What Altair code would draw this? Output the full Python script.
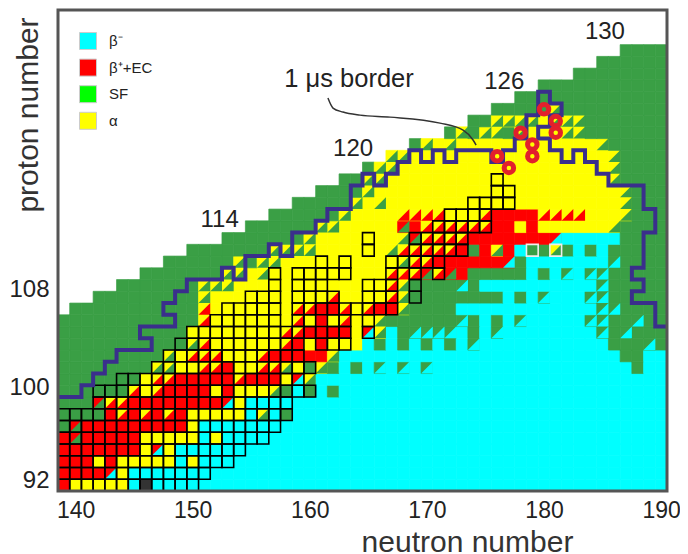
import altair as alt
import pandas as pd

alt.data_transformers.disable_max_rows()

# decay mode per nuclide: one row per proton number (92 upward), groups are
# N=139 | 140-149 | 150-159 | 160-169 | 170-179 | 180-189 | 190
CHART_ROWS = [
 "r yyyyycKccc cccccccccc cccccccccc cccccccccc cccccccccc c",
 "r rrriyccccc cccccccccc cccccccccc cccccccccc cccccccccc c",
 "r rryryyyyyc yccccccccc cccccccccc cccccccccc cccccccccc c",
 "r rrrrrryiyc cccccccccc cccccccccc cccccccccc cccccccccc c",
 "r drrrrryyyy ycyccccccc cccccccccc cccccccccc cccccccccc c",
 "g drrrrrrrrr yccccccccc cccccccccc cccccccccc cccccccccc c",
 "g gggrararar yyyyycbcgc cccccccccc cccccccccc cccccccccc c",
 "g ggdaarrrrr rrriyccccc cccccccccc cccccccccc cccccccccc c",
 "g gggggayarr rryryyybgc gcgccccccc cccccccccc cccccccccc c",
 "g ggggggyaar rrrrarrryi bccccccccc cccccccccc cccccccccc c",
 "g gggggggbby yaaryyaaby gbgcgchchc hccccccccc ccccccccgc c",
 "g ggggggggby aaayyyarrr rrbccccccc cccccccccc cccccccggc c",
 "g gggggggggg bayyyyyyar yryyycgcgc gcgchccccc ccccccgggh g",
 "g gggggggggg yyyyyyyyaa rrrryibcgh hhhcgchccc ccccchghgg g",
 "g gggggggggg gayyyyyyya yryayybggg ggghgcgchc cccchhgghg g",
 ". gggggggggg gayyyyyyya arrayarrbg gggccccccc ccccchhggg g",
 ". ..gggggggg gbyyyyyyyy yyayyyyabg gggggggcgc hccchhgggg g",
 ". ....gggggg gbbbyyyyyy yyyyyyyabg ggghgccccc ccccchgggg g",
 ". ......gggg gggbbybyyy yyyyyyyaaa dadrgggggc gchchhgggg g",
 ". ........gg ggggbgbbyy yyyyyyyyba arrrrrrigc cccccchggg g",
 ". .......... gggggggbbb byyyyyybaa aaargrbrcg gbgcgcgggg g",
 ". .......... ...ggggggg byyyyyyybd aaaarrrrrr ricccccggg g",
 ". .......... .....ggggg gbbyyyyydr aaaaaarryr yyyyyybggg g",
 ". .......... .......ggg gggbyyyyaa aayyyarrrr aaaayyybgg g",
 ". .......... .........g ggggbybyyy yyyyyyyyyy yyyyyyybgg g",
 ". .......... .......... .ggggbyyyy yyyyyyyyyy yyyyyyybgg g",
 ". .......... .......... ...ggbbyyy yyyyyyyyyy yyyyyybggg g",
 ". .......... .......... .....gbbyy yyyyyyyyyy yyyyyybggg g",
 ". .......... .......... .......bby yyyyyyyyyy yyyyyybggg g",
 ". .......... .......... .........g bybyyyyyyy yyyyybgggg g",
 ". .......... .......... .......... ..gbgbbgby yybbgggggg g",
 ". .......... .......... .......... ....ggbbbb ybbbgggggg g",
 ". .......... .......... .......... ......gggg gbgggggggg g",
 ". .......... .......... .......... ........gg gggggggggg g",
 ". .......... .......... .......... .......... gggggggggg g",
 ". .......... .......... .......... .......... ...ggggggg g",
 ". .......... .......... .......... .......... .....ggggg g",
 ". .......... .......... .......... .......... .......ggg g",
]
FIRST_Z = 92
FIRST_N = 139

COLORS = {"c": "#00ffff", "r": "#ff0000", "g": "#3a9f45", "y": "#ffff00", "K": "#333333"}
# split cells: upper-left colour, lower-right colour
SPLITS = {"a": "yr", "b": "yg", "d": "rg", "h": "gc", "i": "rc"}

# known-mass boxes: proton number, first neutron, last neutron
BOXES = [
 (92,139,150),(93,139,151),(94,139,153),(95,139,154),(96,139,156),(97,139,157),(98,139,158),
 (99,142,158),(100,142,160),(101,144,159),(102,147,160),(103,148,159),
 (104,149,159),(104,161,163),(105,150,163),(105,165,165),
 (106,152,157),(106,159,160),(106,162,163),(106,165,165),
 (107,153,157),(107,159,167),
 (108,155,157),(108,159,162),(108,165,167),(108,169,169),
 (109,157,157),(109,159,161),(109,165,167),(109,169,169),
 (110,157,157),(110,159,163),(110,167,167),(110,169,169),(110,171,171),
 (111,161,161),(111,163,163),(111,167,171),
 (112,165,165),(112,169,173),(113,165,165),(113,169,173),
 (114,171,175),(115,172,175),(116,174,177),(117,176,177),(118,176,176),
]
WHITE_BOXES = [(112,179),(112,181)]

# recently observed nuclides (neutron, proton)
CIRCLE_N = [180,181,181,178,179,179,177,176]
CIRCLE_Z = [124,123,122,122,121,120,119,120]

# 1 microsecond border, cell edges
BORDER = [(138.5,99.5),(140.5,99.5),(140.5,100.5),(141.5,100.5),(141.5,101.5),(142.5,101.5),(142.5,102.5),
 (143.5,102.5),(143.5,103.5),(146.5,103.5),(146.5,104.5),(145.5,104.5),(145.5,105.5),(148.5,105.5),
 (148.5,106.5),(147.5,106.5),(147.5,107.5),(148.5,107.5),(148.5,108.5),(149.5,108.5),(149.5,109.5),
 (152.5,109.5),(152.5,110.5),(153.5,110.5),(153.5,109.5),(154.5,109.5),(154.5,111.5),(156.5,111.5),
 (156.5,112.5),(157.5,112.5),(157.5,111.5),(158.5,111.5),(158.5,113.5),(160.5,113.5),(160.5,114.5),
 (161.5,114.5),(161.5,115.5),(163.5,115.5),(163.5,117.5),(164.5,117.5),(164.5,118.5),(165.5,118.5),
 (165.5,117.5),(166.5,117.5),(166.5,118.5),(167.5,118.5),(167.5,119.5),(168.5,119.5),(168.5,120.5),
 (169.5,120.5),(169.5,119.5),(170.5,119.5),(170.5,120.5),(171.5,120.5),(171.5,119.5),(172.5,119.5),
 (172.5,120.5),(175.5,120.5),(175.5,119.5),(176.5,119.5),(176.5,120.5),(177.5,120.5),(177.5,121.5),
 (178.5,121.5),(178.5,123.5),(179.5,123.5),(179.5,125.5),(180.5,125.5),(180.5,124.5),(181.5,124.5),
 (181.5,123.5),(180.5,123.5),(180.5,122.5),(179.5,122.5),(179.5,121.5),(180.5,121.5),(180.5,120.5),
 (181.5,120.5),(181.5,119.5),(182.5,119.5),(182.5,120.5),(183.5,120.5),(183.5,119.5),(184.5,119.5),
 (184.5,118.5),(185.5,118.5),(185.5,117.5),(188.5,117.5),(188.5,115.5),(189.5,115.5),(189.5,113.5),
 (188.5,113.5),(188.5,110.5),(187.5,110.5),(187.5,109.5),(188.5,109.5),(188.5,108.5),(187.5,108.5),
 (187.5,107.5),(189.5,107.5),(189.5,105.5),(190.5,105.5)]

LEADER_N = [161.55,161.98,162.83,164.29,166.85,171.12,173.09,173.94,174.2]
LEADER_Z = [124.95,124.1,123.76,123.5,123.33,122.82,122.22,121.38,120.95]

NOTE_TEXT = ["130","126","120","114","1 μs border"]
NOTE_N = [185.2,176.6,163.7,152.3,163.35]
NOTE_Z = [130.6,126.3,120.6,114.56,126.57]
NOTE_SIZE = [24,24,24,24,25.5]

LEGEND_NAMES = ["β⁻","β⁺+EC","SF","α"]
LEGEND_COLORS = ["#00ffff","#ff0000","#00ff00","#ffff00"]

FONT = "Liberation Sans"
N_DOMAIN = [138.5,190.5]
Z_DOMAIN = [91.5,132.45]

full, tri = [], []
for i,row in enumerate(CHART_ROWS):
    z = FIRST_Z+i
    for j,ch in enumerate(row.replace(" ","")):
        n = FIRST_N+j
        if ch == ".":
            continue
        if ch in SPLITS:
            ul,lr = SPLITS[ch]
            full.append(dict(n0=n-.5,n1=n+.5,z0=z-.5,z1=z+.5,col=COLORS[ul]))
            tri.append(dict(n=n,z=z,col=COLORS[lr]))
        else:
            full.append(dict(n0=n-.5,n1=n+.5,z0=z-.5,z1=z+.5,col=COLORS[ch]))

xs = alt.Scale(domain=N_DOMAIN,nice=False,zero=False)
ys = alt.Scale(domain=Z_DOMAIN,nice=False,zero=False)

cells = alt.Chart(pd.DataFrame(full)).mark_rect(strokeWidth=0.7).encode(
    x=alt.X("n0:Q",scale=xs,axis=alt.Axis(values=[140,150,160,170,180,190],title="neutron number",
        ticks=False,domain=False,grid=False,labelFontSize=23,labelFont=FONT,labelColor="#222",labelPadding=8,
        labelFlush=False,titleFont=FONT,titleFontSize=30,titleFontWeight="normal",titleColor="#333",
        titleX=409,titleY=60.5,titleBaseline="alphabetic")),
    x2="n1:Q",
    y=alt.Y("z0:Q",scale=ys,axis=alt.Axis(values=[92.41,100.33,108.68],labelExpr="floor(datum.value)",title="proton number",
        ticks=False,domain=False,grid=False,labelFontSize=24,labelFont=FONT,labelColor="#222",labelPadding=9,
        labelFlush=False,titleFont=FONT,titleFontSize=30,titleFontWeight="normal",titleColor="#333",
        titleX=-21,titleY=104.5,titleAngle=270,titleBaseline="alphabetic")),
    y2="z1:Q",
    color=alt.Color("col:N",scale=None),
    stroke=alt.Stroke("col:N",scale=None),
)
tris = alt.Chart(pd.DataFrame(tri)).mark_point(shape="M 1 -1 L 1 1 L -1 1 Z",filled=True,size=138,strokeWidth=0,opacity=1).encode(
    x=alt.X("n:Q",scale=xs),y=alt.Y("z:Q",scale=ys),color=alt.Color("col:N",scale=None))

box_df = pd.DataFrame([dict(n0=n-.5,n1=n+.5,z0=z-.5,z1=z+.5) for z,a,b in BOXES for n in range(a,b+1)])
boxes = alt.Chart(box_df).mark_rect(fillOpacity=0,stroke="#000000",strokeWidth=1.6).encode(
    x=alt.X("n0:Q",scale=xs),x2="n1:Q",y=alt.Y("z0:Q",scale=ys),y2="z1:Q")
wb_df = pd.DataFrame([dict(n0=n-.5,n1=n+.5,z0=z-.5,z1=z+.5) for z,n in WHITE_BOXES])
wboxes = alt.Chart(wb_df).mark_rect(fillOpacity=0,stroke="#eeeeee",strokeWidth=1.6).encode(
    x=alt.X("n0:Q",scale=xs),x2="n1:Q",y=alt.Y("z0:Q",scale=ys),y2="z1:Q")

border = alt.Chart(pd.DataFrame([dict(n=a,z=b,o=i) for i,(a,b) in enumerate(BORDER)])).mark_line(
    color="#3a2f8c",strokeWidth=4,strokeJoin="miter",interpolate="linear").encode(
    x=alt.X("n:Q",scale=xs),y=alt.Y("z:Q",scale=ys),order="o:Q")
leader = alt.Chart(pd.DataFrame(dict(n=LEADER_N,z=LEADER_Z,o=range(len(LEADER_N))))).mark_line(
    color="#333333",strokeWidth=1.5,interpolate="monotone").encode(
    x=alt.X("n:Q",scale=xs),y=alt.Y("z:Q",scale=ys),order="o:Q")
circles = alt.Chart(pd.DataFrame(dict(n=CIRCLE_N,z=CIRCLE_Z))).mark_point(
    shape="circle",filled=False,size=90,stroke="#e2202c",strokeWidth=5,opacity=1).encode(
    x=alt.X("n:Q",scale=xs),y=alt.Y("z:Q",scale=ys))
notes = alt.Chart(pd.DataFrame(dict(t=NOTE_TEXT,n=NOTE_N,z=NOTE_Z,s=NOTE_SIZE))).mark_text(
    font=FONT,color="#222222",align="center",baseline="middle").encode(
    x=alt.X("n:Q",scale=xs),y=alt.Y("z:Q",scale=ys),text="t:N",size=alt.Size("s:Q",scale=None))
frame = alt.Chart(pd.DataFrame(dict(n0=[N_DOMAIN[0]],n1=[N_DOMAIN[1]],z0=[Z_DOMAIN[0]],z1=[Z_DOMAIN[1]]))).mark_rect(
    fillOpacity=0,stroke="#555555",strokeWidth=3).encode(
    x=alt.X("n0:Q",scale=xs),x2="n1:Q",y=alt.Y("z0:Q",scale=ys),y2="z1:Q")
legend = alt.Chart(pd.DataFrame(dict(k=LEGEND_NAMES,n=[100]*4,z=[50]*4))).mark_point(
    shape="square",filled=True,clip=True,size=10).encode(
    x=alt.X("n:Q",scale=xs),y=alt.Y("z:Q",scale=ys),
    fill=alt.Fill("k:N",scale=alt.Scale(domain=LEGEND_NAMES,range=LEGEND_COLORS),
        legend=alt.Legend(orient="none",legendX=21,legendY=22,title=None,symbolType="square",symbolSize=289,
            symbolStrokeColor="#cccccc",symbolStrokeWidth=1,symbolOpacity=1,labelFont=FONT,labelFontSize=15,labelColor="#222",
            labelOffset=12,rowPadding=4.6,padding=0)))

chart = alt.layer(cells,tris,boxes,wboxes,border,leader,circles,notes,frame,legend).properties(
    width=609,height=481,
    padding={"left":50,"top":2,"right":13,"bottom":62},
    autosize=alt.AutoSizeParams(type="none"),
).configure_view(stroke=None)

chart.save("out.html",embed_options={"renderer":"svg","actions":False})
